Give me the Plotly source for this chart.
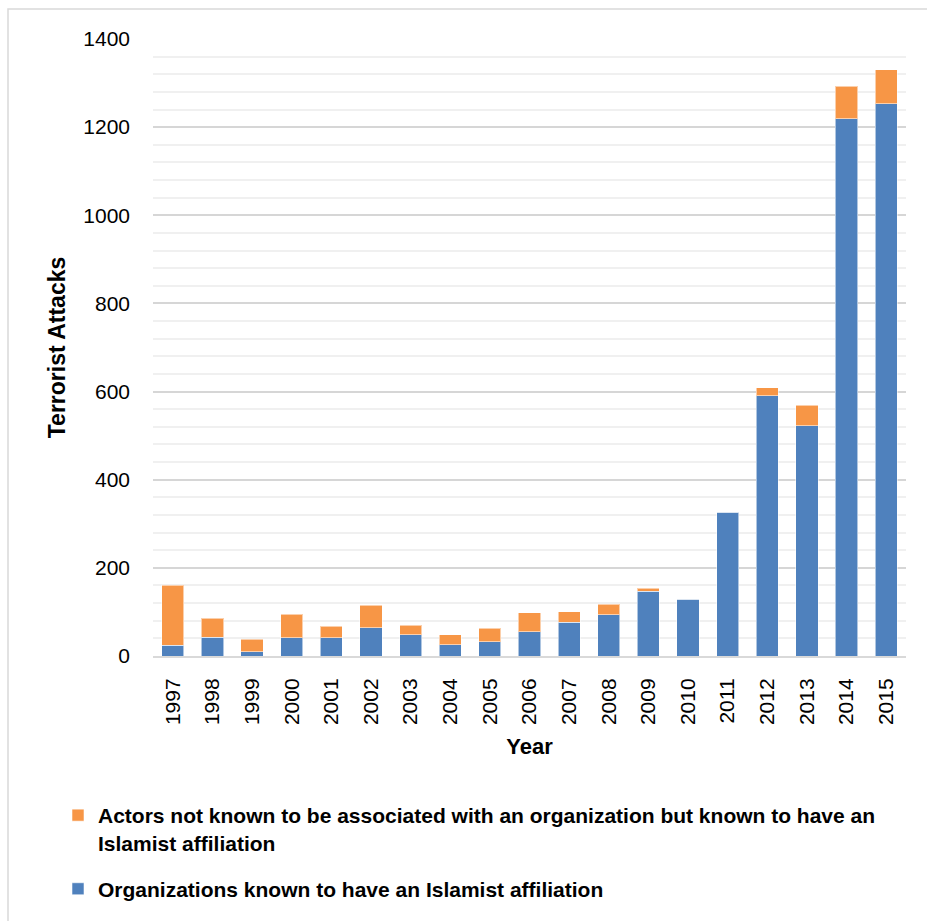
import plotly.graph_objects as go

# Yearly counts of attacks, split by perpetrator type
years = ["1997", "1998", "1999", "2000", "2001", "2002", "2003", "2004", "2005", "2006",
         "2007", "2008", "2009", "2010", "2011", "2012", "2013", "2014", "2015"]
organizations = [24, 42, 10, 41, 41, 64, 48, 25, 32, 55,
                 77, 94, 147, 129, 326, 590, 523, 1219, 1253]
unaffiliated_actors = [137, 44, 28, 54, 27, 51, 22, 23, 31, 43,
                       23, 24, 7, 0, 0, 19, 46, 74, 77]

name_org = "Organizations known to have an Islamist affiliation"
name_actor = ("Actors not known to be associated with an organization but known to have an"
              "<br>Islamist affiliation")

FONT = "Liberation Sans, Arial, sans-serif"
BLUE = "#4F81BD"
ORANGE = "#F79646"

fig = go.Figure()
fig.add_trace(go.Bar(
    x=years, y=organizations, name=name_org, legendgroup="org", legendrank=2,
    marker=dict(color=BLUE, line=dict(color="rgba(255,255,255,0.55)", width=1)),
))
fig.add_trace(go.Bar(
    x=years, y=unaffiliated_actors, name=name_actor, legendgroup="actor", legendrank=1,
    marker=dict(color=ORANGE, line=dict(color="rgba(255,255,255,0.55)", width=1)),
))

L, R, T, B = 153, 21, 39, 265
W, H = 927, 921
pw, ph = W - L - R, H - T - B

def px_x(x):
    return (x - L) / pw

def px_y(y):
    return (H - B - y) / ph

fig.update_layout(
    width=W, height=H,
    margin=dict(l=L, r=R, t=T, b=B, autoexpand=False),
    barmode="stack",
    bargap=0.44,
    plot_bgcolor="white",
    paper_bgcolor="white",
    font=dict(family=FONT, color="#000000", size=21),
    showlegend=True,
    legend=dict(
        traceorder="grouped",
        orientation="v",
        valign="top",
        x=px_x(58), xanchor="left",
        y=px_y(795), yanchor="top",
        font=dict(family=FONT, size=21, color="#000000", weight="bold"),
        bgcolor="rgba(0,0,0,0)",
        tracegroupgap=16,
        itemclick=False,
    ),
    xaxis=dict(
        type="category",
        tickangle=-90,
        tickfont=dict(family=FONT, size=21, color="#000000"),
        ticks="",
        ticklabelstandoff=12,
        showgrid=False,
        showline=True, linecolor="#D9D9D9", linewidth=2,
        title=dict(text="Year", font=dict(family=FONT, size=22, color="#000000", weight="bold"),
                   standoff=14),
    ),
    yaxis=dict(
        range=[0, 1400],
        dtick=200,
        tickfont=dict(family=FONT, size=21, color="#000000"),
        ticks="",
        ticklabelstandoff=22,
        showgrid=True, gridcolor="#D6D6D6", gridwidth=1.6,
        minor=dict(dtick=40, showgrid=True, gridcolor="#F0F0F0", gridwidth=1.5),
        zeroline=False,
        showline=False,
        title=dict(text="Terrorist Attacks",
                   font=dict(family=FONT, size=23, color="#000000", weight="bold"),
                   standoff=11),
    ),
    shapes=[dict(
        type="rect", xref="paper", yref="paper",
        x0=px_x(8), x1=px_x(W + 20), y0=px_y(H + 20), y1=px_y(9),
        line=dict(color="#D9D9D9", width=1.5), fillcolor="rgba(0,0,0,0)", layer="below",
    )],
)

fig.write_html("out.html")
